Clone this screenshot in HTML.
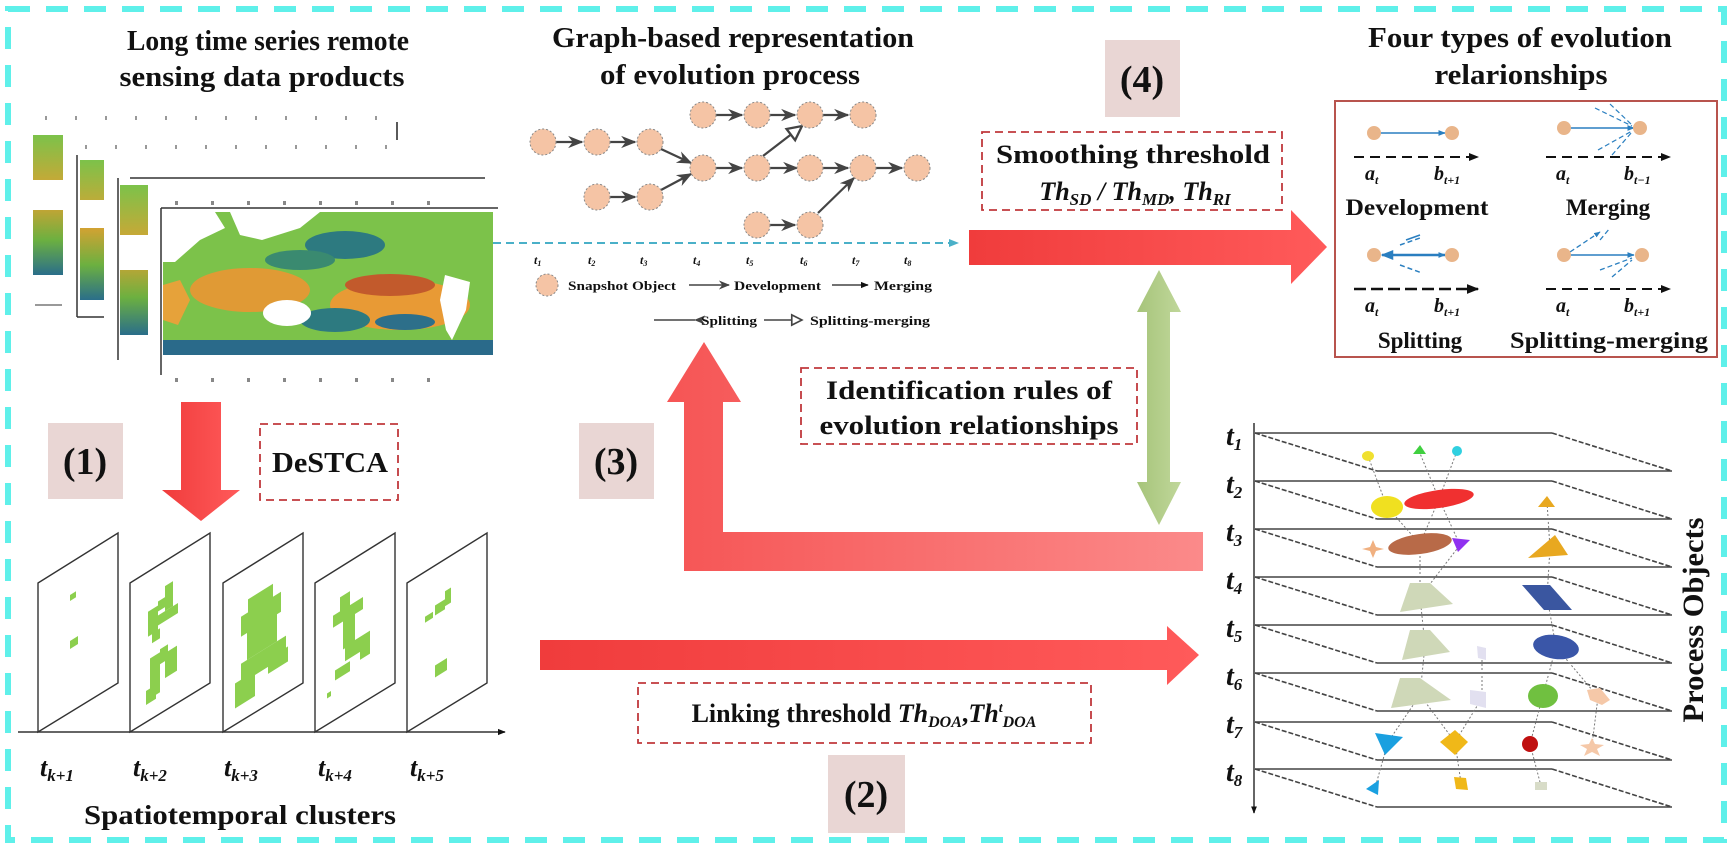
<!DOCTYPE html>
<html><head><meta charset="utf-8"><style>
html,body{margin:0;padding:0;background:#fff;}
svg{display:block;}
text{font-family:"Liberation Serif",serif;font-weight:bold;fill:#111;}
</style></head><body>
<svg width="1732" height="848" viewBox="0 0 1732 848" xmlns="http://www.w3.org/2000/svg">
<defs>
<linearGradient id="gRed" x1="0" x2="1"><stop offset="0" stop-color="#f03c3c"/><stop offset="1" stop-color="#ff5a5a"/></linearGradient>
<linearGradient id="gRedL" x1="0" x2="1"><stop offset="0" stop-color="#f65555"/><stop offset="1" stop-color="#fb8a8a"/></linearGradient>
<linearGradient id="gGreen" x1="0" x2="1"><stop offset="0" stop-color="#a6c47a"/><stop offset="1" stop-color="#c0d79a"/></linearGradient>
<linearGradient id="gMap" x1="0" y1="0" x2="0" y2="1"><stop offset="0" stop-color="#7cc24a"/><stop offset="0.45" stop-color="#e0a030"/><stop offset="0.75" stop-color="#6cb040"/><stop offset="1" stop-color="#2a6e8a"/></linearGradient>
<marker id="mA" viewBox="0 0 10 10" refX="9" refY="5" markerWidth="7" markerHeight="7" orient="auto"><path d="M0,1 L10,5 L0,9 L3,5 z" fill="#444"/></marker>
<marker id="mH" viewBox="0 0 10 10" refX="9" refY="5" markerWidth="8" markerHeight="8" orient="auto"><path d="M1,1 L9,5 L1,9 z" fill="#fff" stroke="#444" stroke-width="1.3"/></marker>
<marker id="mB" viewBox="0 0 10 10" refX="9" refY="5" markerWidth="5" markerHeight="5" orient="auto"><path d="M0,1 L10,5 L0,9 z" fill="#2a7fc0"/></marker>
<marker id="mK" viewBox="0 0 10 10" refX="9" refY="5" markerWidth="5" markerHeight="5" orient="auto"><path d="M0,1 L10,5 L0,9 z" fill="#111"/></marker>
<marker id="mC" viewBox="0 0 10 10" refX="9" refY="5" markerWidth="5" markerHeight="5" orient="auto"><path d="M0,1 L10,5 L0,9 z" fill="#4ab0c8"/></marker>
</defs>

<rect x="8" y="9" width="1716" height="831" fill="none" stroke="#5ff0ea" stroke-width="6" stroke-dasharray="22 16"/>

<!-- Section 1: remote sensing -->
<text x="268" y="50" font-size="29" text-anchor="middle" textLength="282" lengthAdjust="spacingAndGlyphs">Long time series remote</text>
<text x="262" y="86" font-size="29" text-anchor="middle" textLength="285" lengthAdjust="spacingAndGlyphs">sensing data products</text>

<g>
  <line x1="45" y1="118" x2="395" y2="118" stroke="#999" stroke-dasharray="2 28" stroke-width="4"/>
  <line x1="397" y1="122" x2="397" y2="140" stroke="#222" stroke-width="1.5"/>
  <rect x="33" y="135" width="30" height="140" fill="url(#gMap)"/>
  <rect x="33" y="180" width="30" height="30" fill="#fff"/>
  <line x1="35" y1="305" x2="62" y2="305" stroke="#333"/>
  <line x1="85" y1="147" x2="400" y2="147" stroke="#999" stroke-dasharray="2 28" stroke-width="4"/>
  <line x1="77" y1="155" x2="77" y2="317" stroke="#333" stroke-width="1.5"/><line x1="77" y1="317" x2="104" y2="317" stroke="#333" stroke-width="1.5"/>
  <rect x="80" y="160" width="24" height="140" fill="url(#gMap)"/>
  <rect x="80" y="200" width="24" height="28" fill="#fff"/>
  <line x1="130" y1="178" x2="485" y2="178" stroke="#333" stroke-width="1.5"/>
  <line x1="118" y1="178" x2="118" y2="360" stroke="#333" stroke-width="1.5"/>
  <rect x="120" y="185" width="28" height="150" fill="url(#gMap)"/>
  <rect x="120" y="235" width="28" height="35" fill="#fff"/>
  <line x1="161" y1="208" x2="498" y2="208" stroke="#333" stroke-width="1.5"/>
  <line x1="161" y1="208" x2="161" y2="375" stroke="#333" stroke-width="1.5"/>
  <line x1="175" y1="203" x2="460" y2="203" stroke="#888" stroke-dasharray="3 33" stroke-width="4"/>
  <line x1="175" y1="380" x2="460" y2="380" stroke="#888" stroke-dasharray="3 33" stroke-width="4"/>
  <rect x="163" y="212" width="330" height="143" fill="#7cc24a"/>
  <ellipse cx="250" cy="290" rx="60" ry="22" fill="#e09a35"/>
  <ellipse cx="400" cy="305" rx="70" ry="25" fill="#e89a35"/>
  <ellipse cx="345" cy="245" rx="40" ry="14" fill="#2d7a80"/>
  <ellipse cx="300" cy="260" rx="35" ry="10" fill="#3a8a70"/>
  <ellipse cx="335" cy="320" rx="35" ry="12" fill="#2d7a80"/>
  <ellipse cx="405" cy="322" rx="30" ry="8" fill="#2d6f8a"/>
  <ellipse cx="390" cy="285" rx="45" ry="11" fill="#c25a2c"/>
  <rect x="163" y="340" width="330" height="15" fill="#2a6a8a"/>
  <path d="M163,212 L215,212 L225,228 L200,240 L175,262 L163,262 z" fill="#fff"/>
  <path d="M230,212 L320,212 L300,228 L262,240 L240,235 z" fill="#fff"/>
  <ellipse cx="287" cy="313" rx="24" ry="13" fill="#fff"/>
  <path d="M445,275 L470,282 L466,310 L452,340 L446,330 L440,300 z" fill="#fff"/>
  <path d="M163,285 L180,280 L190,300 L178,325 L163,320 z" fill="#e6a23a"/>
</g>

<rect x="48" y="423" width="75" height="76" fill="#e9d6d4"/>
<text x="85" y="474" font-size="38" text-anchor="middle">(1)</text>
<path d="M181,402 L221,402 L221,490 L240,490 L201,521 L162,490 L181,490 z" fill="url(#gRed)"/>
<rect x="260" y="424" width="138" height="76" fill="none" stroke="#c0393c" stroke-width="1.8" stroke-dasharray="8 5"/>
<text x="330" y="472" font-size="28" text-anchor="middle" textLength="116" lengthAdjust="spacingAndGlyphs">DeSTCA</text>

<!-- clusters -->
<g>
  <line x1="18" y1="732" x2="505" y2="732" stroke="#333" stroke-width="1.6" marker-end="url(#mK)"/>
  <g transform="translate(38,583)">
    <path d="M0,0 L80,-50 L80,100 L0,149 z" fill="#fff" stroke="#333" stroke-width="1.4"/>
    <g transform="skewY(-32)" fill="#8ccf4e"><rect x="32" y="32" width="6" height="6"/><rect x="32" y="78" width="8" height="8"/></g>
  </g>
  <g transform="translate(130,583)">
    <path d="M0,0 L80,-50 L80,100 L0,149 z" fill="#fff" stroke="#333" stroke-width="1.4"/>
    <g transform="skewY(-32)" fill="#8ccf4e"><rect x="18" y="40" width="10" height="25"/><rect x="28" y="36" width="12" height="10"/><rect x="35" y="25" width="8" height="25"/><rect x="28" y="50" width="20" height="10"/><rect x="22" y="64" width="8" height="10"/><rect x="20" y="88" width="10" height="40"/><rect x="30" y="85" width="8" height="15"/><rect x="35" y="92" width="12" height="25"/><rect x="16" y="118" width="10" height="14"/></g>
  </g>
  <g transform="translate(223,583)">
    <path d="M0,0 L80,-50 L80,100 L0,149 z" fill="#fff" stroke="#333" stroke-width="1.4"/>
    <g transform="skewY(-32)" fill="#8ccf4e"><rect x="25" y="32" width="25" height="15"/><rect x="18" y="45" width="40" height="20"/><rect x="24" y="62" width="30" height="30"/><rect x="18" y="92" width="45" height="20"/><rect x="12" y="108" width="20" height="25"/><rect x="45" y="104" width="20" height="15"/></g>
  </g>
  <g transform="translate(315,583)">
    <path d="M0,0 L80,-50 L80,100 L0,149 z" fill="#fff" stroke="#333" stroke-width="1.4"/>
    <g transform="skewY(-32)" fill="#8ccf4e"><rect x="25" y="30" width="10" height="15"/><rect x="18" y="44" width="30" height="12"/><rect x="28" y="54" width="12" height="30"/><rect x="30" y="82" width="25" height="15"/><rect x="45" y="90" width="10" height="15"/><rect x="20" y="100" width="15" height="10"/><rect x="12" y="118" width="4" height="5"/></g>
  </g>
  <g transform="translate(407,583)">
    <path d="M0,0 L80,-50 L80,100 L0,149 z" fill="#fff" stroke="#333" stroke-width="1.4"/>
    <g transform="skewY(-32)" fill="#8ccf4e"><rect x="18" y="45" width="8" height="6"/><rect x="28" y="40" width="10" height="10"/><rect x="38" y="32" width="6" height="15"/><rect x="28" y="100" width="12" height="12"/></g>
  </g>
</g>
<g font-style="italic" font-size="26">
  <text x="40" y="776">t<tspan font-size="17" dy="5">k+1</tspan></text>
  <text x="133" y="776">t<tspan font-size="17" dy="5">k+2</tspan></text>
  <text x="224" y="776">t<tspan font-size="17" dy="5">k+3</tspan></text>
  <text x="318" y="776">t<tspan font-size="17" dy="5">k+4</tspan></text>
  <text x="410" y="776">t<tspan font-size="17" dy="5">k+5</tspan></text>
</g>
<text x="240" y="824" font-size="27" text-anchor="middle" textLength="312" lengthAdjust="spacingAndGlyphs">Spatiotemporal clusters</text>

<!-- Graph section -->
<text x="733" y="47" font-size="29" text-anchor="middle" textLength="362" lengthAdjust="spacingAndGlyphs">Graph-based representation</text>
<text x="730" y="84" font-size="29" text-anchor="middle" textLength="260" lengthAdjust="spacingAndGlyphs">of evolution process</text>

<g stroke="#444" stroke-width="2.2" fill="none">
  <line x1="556" y1="142" x2="582" y2="142" marker-end="url(#mA)"/>
  <line x1="610" y1="142" x2="635" y2="142" marker-end="url(#mA)"/>
  <line x1="661" y1="149" x2="691" y2="163" marker-end="url(#mA)"/>
  <line x1="610" y1="197" x2="635" y2="197" marker-end="url(#mA)"/>
  <line x1="661" y1="190" x2="691" y2="174" marker-end="url(#mA)"/>
  <line x1="716" y1="115" x2="742" y2="115" marker-end="url(#mA)"/>
  <line x1="770" y1="115" x2="795" y2="115" marker-end="url(#mA)"/>
  <line x1="823" y1="115" x2="848" y2="115" marker-end="url(#mA)"/>
  <line x1="716" y1="168" x2="742" y2="168" marker-end="url(#mA)"/>
  <line x1="770" y1="168" x2="797" y2="168" marker-end="url(#mA)"/>
  <line x1="763" y1="156" x2="802" y2="126" marker-end="url(#mH)"/>
  <line x1="823" y1="168" x2="848" y2="168" marker-end="url(#mA)"/>
  <line x1="876" y1="168" x2="902" y2="168" marker-end="url(#mA)"/>
  <line x1="770" y1="225" x2="795" y2="225" marker-end="url(#mA)"/>
  <line x1="818" y1="213" x2="854" y2="178" marker-end="url(#mA)"/>
</g>
<g fill="#f5c4a5" stroke="#888" stroke-width="1" stroke-dasharray="2 2">
  <circle cx="543" cy="142" r="13"/><circle cx="597" cy="142" r="13"/><circle cx="650" cy="142" r="13"/>
  <circle cx="597" cy="197" r="13"/><circle cx="650" cy="197" r="13"/>
  <circle cx="703" cy="115" r="13"/><circle cx="757" cy="115" r="13"/><circle cx="810" cy="115" r="13"/><circle cx="863" cy="115" r="13"/>
  <circle cx="703" cy="168" r="13"/><circle cx="757" cy="168" r="13"/><circle cx="810" cy="168" r="13"/><circle cx="863" cy="168" r="13"/><circle cx="917" cy="168" r="13"/>
  <circle cx="757" cy="225" r="13"/><circle cx="810" cy="225" r="13"/>
</g>
<line x1="493" y1="243" x2="958" y2="243" stroke="#4ab0c8" stroke-width="2" stroke-dasharray="8 5" marker-end="url(#mC)"/>
<g font-style="italic" font-size="12">
  <text x="534" y="264">t<tspan font-size="8" dy="2">1</tspan></text><text x="588" y="264">t<tspan font-size="8" dy="2">2</tspan></text><text x="640" y="264">t<tspan font-size="8" dy="2">3</tspan></text><text x="693" y="264">t<tspan font-size="8" dy="2">4</tspan></text><text x="746" y="264">t<tspan font-size="8" dy="2">5</tspan></text><text x="800" y="264">t<tspan font-size="8" dy="2">6</tspan></text><text x="852" y="264">t<tspan font-size="8" dy="2">7</tspan></text><text x="904" y="264">t<tspan font-size="8" dy="2">8</tspan></text>
</g>
<g font-size="13" font-weight="normal">
  <circle cx="547" cy="285" r="11" fill="#f5c4a5" stroke="#888" stroke-dasharray="2 2"/>
  <text x="568" y="290" textLength="108" lengthAdjust="spacingAndGlyphs">Snapshot Object</text>
  <line x1="689" y1="285" x2="729" y2="285" stroke="#444" stroke-width="1.6" marker-end="url(#mA)"/>
  <text x="734" y="290" textLength="87" lengthAdjust="spacingAndGlyphs">Development</text>
  <line x1="832" y1="285" x2="868" y2="285" stroke="#444" stroke-width="1.6" marker-end="url(#mK)"/>
  <text x="874" y="290" textLength="58" lengthAdjust="spacingAndGlyphs">Merging</text>
  <line x1="695" y1="320" x2="654" y2="320" stroke="#444" stroke-width="1.6" marker-start="url(#mA)"/>
  <text x="701" y="325" textLength="56" lengthAdjust="spacingAndGlyphs">Splitting</text>
  <line x1="764" y1="320" x2="802" y2="320" stroke="#444" stroke-width="1.6" marker-end="url(#mH)"/>
  <text x="810" y="325" textLength="120" lengthAdjust="spacingAndGlyphs">Splitting-merging</text>
</g>

<!-- Step 4 & smoothing -->
<rect x="1105" y="40" width="75" height="77" fill="#e9d6d4"/>
<text x="1142" y="92" font-size="38" text-anchor="middle">(4)</text>
<rect x="982" y="132" width="300" height="78" fill="none" stroke="#c0393c" stroke-width="1.8" stroke-dasharray="8 5"/>
<text x="1133" y="163" font-size="26" text-anchor="middle" textLength="274" lengthAdjust="spacingAndGlyphs">Smoothing threshold</text>
<text x="1135" y="200" font-size="26" font-style="italic" text-anchor="middle">Th<tspan font-size="17" dy="5">SD</tspan><tspan dy="-5"> / Th</tspan><tspan font-size="17" dy="5">MD</tspan><tspan dy="-5">, Th</tspan><tspan font-size="17" dy="5">RI</tspan></text>
<path d="M969,230 L1291,230 L1291,210 L1327,247 L1291,284 L1291,265 L969,265 z" fill="url(#gRed)"/>

<!-- Four types -->
<text x="1520" y="47" font-size="29" text-anchor="middle" textLength="304" lengthAdjust="spacingAndGlyphs">Four types of evolution</text>
<text x="1521" y="84" font-size="29" text-anchor="middle" textLength="173" lengthAdjust="spacingAndGlyphs">relarionships</text>
<rect x="1335" y="101" width="382" height="256" fill="none" stroke="#b8544e" stroke-width="2"/>
<g>
  <line x1="1380" y1="133" x2="1445" y2="133" stroke="#2a7fc0" stroke-width="1.5" marker-end="url(#mB)"/>
  <circle cx="1374" cy="133" r="7" fill="#e9b58a"/><circle cx="1452" cy="133" r="7" fill="#e9b58a"/>
  <line x1="1354" y1="157" x2="1478" y2="157" stroke="#111" stroke-width="2" stroke-dasharray="10 6" marker-end="url(#mK)"/>
  <text x="1365" y="180" font-size="20" font-style="italic">a<tspan font-size="12" dy="4">t</tspan></text>
  <text x="1434" y="180" font-size="20" font-style="italic">b<tspan font-size="12" dy="4">t+1</tspan></text>
  <text x="1417" y="215" font-size="23" text-anchor="middle" textLength="143" lengthAdjust="spacingAndGlyphs">Development</text>
</g>
<g>
  <line x1="1569" y1="128" x2="1634" y2="128" stroke="#2a7fc0" stroke-width="1.5" marker-end="url(#mB)"/>
  <line x1="1595" y1="108" x2="1632" y2="126" stroke="#2a7fc0" stroke-width="1.2" stroke-dasharray="5 3"/>
  <line x1="1610" y1="104" x2="1632" y2="125" stroke="#2a7fc0" stroke-width="1.2" stroke-dasharray="5 3"/>
  <line x1="1598" y1="150" x2="1632" y2="131" stroke="#2a7fc0" stroke-width="1.2" stroke-dasharray="5 3"/>
  <line x1="1612" y1="155" x2="1632" y2="132" stroke="#2a7fc0" stroke-width="1.2" stroke-dasharray="5 3"/>
  <circle cx="1564" cy="128" r="7" fill="#e9b58a"/><circle cx="1640" cy="128" r="7" fill="#e9b58a"/>
  <line x1="1546" y1="157" x2="1670" y2="157" stroke="#111" stroke-width="2" stroke-dasharray="10 6" marker-end="url(#mK)"/>
  <text x="1556" y="180" font-size="20" font-style="italic">a<tspan font-size="12" dy="4">t</tspan></text>
  <text x="1624" y="180" font-size="20" font-style="italic">b<tspan font-size="12" dy="4">t−1</tspan></text>
  <text x="1608" y="215" font-size="23" text-anchor="middle">Merging</text>
</g>
<g>
  <line x1="1445" y1="255" x2="1382" y2="255" stroke="#2a7fc0" stroke-width="2.5" marker-end="url(#mB)"/>
  <line x1="1382" y1="255" x2="1445" y2="255" stroke="#2a7fc0" stroke-width="1.5" marker-end="url(#mB)"/>
  <line x1="1400" y1="245" x2="1420" y2="238" stroke="#2a7fc0" stroke-width="1.5" stroke-dasharray="5 3"/>
  <line x1="1400" y1="265" x2="1422" y2="273" stroke="#2a7fc0" stroke-width="1.5" stroke-dasharray="5 3"/>
  <line x1="1406" y1="240" x2="1420" y2="235" stroke="#2a7fc0" stroke-width="1.5"/>
  <circle cx="1374" cy="255" r="7" fill="#e9b58a"/><circle cx="1452" cy="255" r="7" fill="#e9b58a"/>
  <line x1="1354" y1="289" x2="1478" y2="289" stroke="#111" stroke-width="2.5" stroke-dasharray="12 5" marker-end="url(#mK)"/>
  <text x="1365" y="312" font-size="20" font-style="italic">a<tspan font-size="12" dy="4">t</tspan></text>
  <text x="1434" y="312" font-size="20" font-style="italic">b<tspan font-size="12" dy="4">t+1</tspan></text>
  <text x="1420" y="348" font-size="23" text-anchor="middle">Splitting</text>
</g>
<g>
  <line x1="1570" y1="255" x2="1634" y2="255" stroke="#2a7fc0" stroke-width="1.5" marker-end="url(#mB)"/>
  <line x1="1570" y1="252" x2="1600" y2="232" stroke="#2a7fc0" stroke-width="1.3" stroke-dasharray="5 3" marker-end="url(#mB)"/>
  <line x1="1600" y1="240" x2="1610" y2="228" stroke="#2a7fc0" stroke-width="1.3" stroke-dasharray="5 3"/>
  <line x1="1600" y1="270" x2="1632" y2="258" stroke="#2a7fc0" stroke-width="1.3" stroke-dasharray="5 3"/>
  <line x1="1612" y1="277" x2="1632" y2="260" stroke="#2a7fc0" stroke-width="1.3" stroke-dasharray="5 3"/>
  <circle cx="1564" cy="255" r="7" fill="#e9b58a"/><circle cx="1642" cy="255" r="7" fill="#e9b58a"/>
  <line x1="1546" y1="289" x2="1670" y2="289" stroke="#111" stroke-width="2" stroke-dasharray="10 6" marker-end="url(#mK)"/>
  <text x="1556" y="312" font-size="20" font-style="italic">a<tspan font-size="12" dy="4">t</tspan></text>
  <text x="1624" y="312" font-size="20" font-style="italic">b<tspan font-size="12" dy="4">t+1</tspan></text>
  <text x="1609" y="348" font-size="23" text-anchor="middle" textLength="198" lengthAdjust="spacingAndGlyphs">Splitting-merging</text>
</g>

<!-- Step 3 -->
<path d="M1203,532 L1203,571 L684,571 L684,402 L667,402 L704,342 L741,402 L723,402 L723,532 z" fill="url(#gRedL)"/>
<rect x="579" y="423" width="75" height="76" fill="#e9d6d4"/>
<text x="616" y="474" font-size="38" text-anchor="middle">(3)</text>
<rect x="801" y="368" width="336" height="76" fill="none" stroke="#c0393c" stroke-width="1.8" stroke-dasharray="8 5"/>
<text x="969" y="399" font-size="26" text-anchor="middle" textLength="286" lengthAdjust="spacingAndGlyphs">Identification rules of</text>
<text x="969" y="434" font-size="26" text-anchor="middle" textLength="299" lengthAdjust="spacingAndGlyphs">evolution relationships</text>
<path d="M1159,270 L1181,312 L1170,312 L1170,482 L1181,482 L1159,525 L1137,482 L1147,482 L1147,312 L1137,312 z" fill="url(#gGreen)"/>

<!-- Step 2 -->
<path d="M540,640 L1167,640 L1167,626 L1199,655 L1167,685 L1167,670 L540,670 z" fill="url(#gRed)"/>
<rect x="638" y="683" width="453" height="60" fill="none" stroke="#c0393c" stroke-width="1.8" stroke-dasharray="8 5"/>
<text x="864" y="722" font-size="26" text-anchor="middle">Linking threshold <tspan font-style="italic">Th</tspan><tspan font-style="italic" font-size="16" dy="5">DOA</tspan><tspan dy="-5">,</tspan><tspan font-style="italic">Th</tspan><tspan font-style="italic" font-size="14" dy="-10">t</tspan><tspan font-style="italic" font-size="16" dy="15">DOA</tspan></text>
<rect x="828" y="755" width="77" height="78" fill="#e9d6d4"/>
<text x="866" y="807" font-size="38" text-anchor="middle">(2)</text>

<!-- Process objects -->
<line x1="1254" y1="423" x2="1254" y2="813" stroke="#333" stroke-width="1.5" marker-end="url(#mK)"/>
<g fill="none" stroke="#444" stroke-width="1.6">
  <g><line x1="1255" y1="433" x2="1552" y2="433"/><line x1="1377" y1="471" x2="1672" y2="471"/><line x1="1255" y1="433" x2="1377" y2="471" stroke-dasharray="5 2"/><line x1="1552" y1="433" x2="1672" y2="471" stroke-dasharray="5 2"/></g>
  <g><line x1="1255" y1="481" x2="1552" y2="481"/><line x1="1377" y1="519" x2="1672" y2="519"/><line x1="1255" y1="481" x2="1377" y2="519" stroke-dasharray="5 2"/><line x1="1552" y1="481" x2="1672" y2="519" stroke-dasharray="5 2"/></g>
  <g><line x1="1255" y1="529" x2="1552" y2="529"/><line x1="1377" y1="567" x2="1672" y2="567"/><line x1="1255" y1="529" x2="1377" y2="567" stroke-dasharray="5 2"/><line x1="1552" y1="529" x2="1672" y2="567" stroke-dasharray="5 2"/></g>
  <g><line x1="1255" y1="577" x2="1552" y2="577"/><line x1="1377" y1="615" x2="1672" y2="615"/><line x1="1255" y1="577" x2="1377" y2="615" stroke-dasharray="5 2"/><line x1="1552" y1="577" x2="1672" y2="615" stroke-dasharray="5 2"/></g>
  <g><line x1="1255" y1="625" x2="1552" y2="625"/><line x1="1377" y1="663" x2="1672" y2="663"/><line x1="1255" y1="625" x2="1377" y2="663" stroke-dasharray="5 2"/><line x1="1552" y1="625" x2="1672" y2="663" stroke-dasharray="5 2"/></g>
  <g><line x1="1255" y1="673" x2="1552" y2="673"/><line x1="1377" y1="711" x2="1672" y2="711"/><line x1="1255" y1="673" x2="1377" y2="711" stroke-dasharray="5 2"/><line x1="1552" y1="673" x2="1672" y2="711" stroke-dasharray="5 2"/></g>
  <g><line x1="1255" y1="722" x2="1552" y2="722"/><line x1="1377" y1="760" x2="1672" y2="760"/><line x1="1255" y1="722" x2="1377" y2="760" stroke-dasharray="5 2"/><line x1="1552" y1="722" x2="1672" y2="760" stroke-dasharray="5 2"/></g>
  <g><line x1="1255" y1="769" x2="1552" y2="769"/><line x1="1377" y1="807" x2="1672" y2="807"/><line x1="1255" y1="769" x2="1377" y2="807" stroke-dasharray="5 2"/><line x1="1552" y1="769" x2="1672" y2="807" stroke-dasharray="5 2"/></g>
</g>
<g font-style="italic" font-size="28">
  <text x="1226" y="445">t<tspan font-size="17" dy="5">1</tspan></text>
  <text x="1226" y="493">t<tspan font-size="17" dy="5">2</tspan></text>
  <text x="1226" y="541">t<tspan font-size="17" dy="5">3</tspan></text>
  <text x="1226" y="589">t<tspan font-size="17" dy="5">4</tspan></text>
  <text x="1226" y="637">t<tspan font-size="17" dy="5">5</tspan></text>
  <text x="1226" y="685">t<tspan font-size="17" dy="5">6</tspan></text>
  <text x="1226" y="733">t<tspan font-size="17" dy="5">7</tspan></text>
  <text x="1226" y="781">t<tspan font-size="17" dy="5">8</tspan></text>
</g>
<g stroke="#777" stroke-width="1" stroke-dasharray="2 2" fill="none">
  <path d="M1368,456 L1387,507 L1420,544 L1420,597 L1425,645 L1420,695 L1388,742 L1375,788"/>
  <path d="M1419,451 L1439,499 M1457,451 L1439,499 L1420,544"/>
  <path d="M1439,499 L1460,545 L1420,597 M1547,502 L1550,548 L1547,597 L1556,647 L1543,695 L1530,744 L1541,786"/>
  <path d="M1556,647 L1598,697 L1592,745 M1482,652 L1482,698 L1455,742 L1461,783 M1420,695 L1455,742"/>
</g>
<g>
  <ellipse cx="1368" cy="456" rx="6" ry="5" fill="#f0e030"/>
  <path d="M1413,454 L1420,445 L1426,454 z" fill="#40d040"/>
  <circle cx="1457" cy="451" r="5" fill="#30d0e0"/>
  <ellipse cx="1387" cy="507" rx="16" ry="11" fill="#f0e020"/>
  <ellipse cx="1439" cy="499" rx="35" ry="9" fill="#f03030" transform="rotate(-8 1439 499)"/>
  <path d="M1538,507 L1547,496 L1555,507 z" fill="#e8a820"/>
  <path d="M1373,540 L1376,547 L1384,549 L1376,551 L1373,558 L1370,551 L1362,549 L1370,547 z" fill="#f0b080"/>
  <ellipse cx="1420" cy="544" rx="32" ry="10" fill="#b86a48" transform="rotate(-8 1420 544)"/>
  <path d="M1452,538 L1470,540 L1458,552 z" fill="#9030f0"/>
  <path d="M1528,558 L1555,535 L1568,555 z" fill="#e8a820"/>
  <path d="M1400,612 L1410,583 L1430,583 L1453,604 z" fill="#cfd8b8"/>
  <path d="M1522,585 L1550,585 L1572,610 L1544,610 z" fill="#3a56a0"/>
  <path d="M1402,660 L1410,630 L1430,630 L1450,652 z" fill="#cfd8b8"/>
  <path d="M1477,646 L1486,648 L1486,660 L1478,658 z" fill="#e2e0f0"/>
  <ellipse cx="1556" cy="647" rx="23" ry="12" fill="#3a56a8" transform="rotate(8 1556 647)"/>
  <path d="M1391,708 L1400,678 L1420,678 L1451,700 z" fill="#cfd8b8"/>
  <path d="M1470,690 L1486,692 L1486,708 L1470,704 z" fill="#e2e0f0"/>
  <ellipse cx="1543" cy="696" rx="15" ry="12" fill="#70c040"/>
  <path d="M1587,690 L1600,688 L1610,700 L1602,705 L1590,700 z" fill="#f5c8a8"/>
  <path d="M1375,733 L1403,737 L1385,755 z" fill="#1aa0e0"/>
  <path d="M1455,730 L1468,742 L1455,755 L1440,742 z" fill="#f0b818"/>
  <circle cx="1530" cy="744" r="8" fill="#c01010"/>
  <path d="M1592,738 L1595,744 L1604,745 L1597,749 L1600,756 L1592,752 L1584,756 L1587,749 L1580,745 L1589,744 z" fill="#f5c8a8"/>
  <path d="M1366,789 L1379,780 L1378,795 z" fill="#1aa0e0"/>
  <path d="M1454,777 L1466,778 L1468,790 L1456,789 z" fill="#f0b818"/>
  <rect x="1535" y="782" width="12" height="8" fill="#d8dcc8"/>
</g>
<text transform="translate(1703,620) rotate(-90)" font-size="30" text-anchor="middle" textLength="205" lengthAdjust="spacingAndGlyphs">Process Objects</text>
</svg>
</body></html>
